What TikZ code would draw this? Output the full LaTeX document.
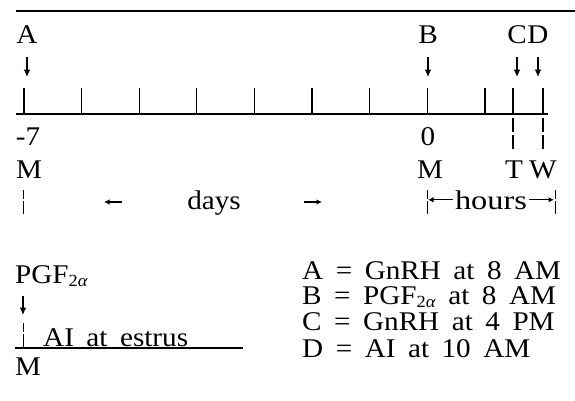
\documentclass[tikz,border=0pt]{standalone}
\usepackage{fontspec}
\setmainfont{Liberation Serif}
\usepackage{graphicx}
\usetikzlibrary{arrows.meta,positioning}

% the old typesetting is a bit wider than Times, so stretch the text a little
\newcommand{\wtext}[1]{\scalebox{1.08}[1]{#1}}
\newcommand{\widespace}{\spaceskip=0.43em\relax}
\newcommand{\pgfsub}{PGF\raisebox{-3.5pt}{\fontsize{17}{17}\selectfont 2\textit{α}}}

\begin{document}
\begin{tikzpicture}[x=1pt, y=-1pt,
    lbl/.style={inner sep=0pt, anchor=base, font=\fontsize{27}{32}\selectfont\widespace},
    rule/.style={line width=1.6pt},
    tickmark/.style={line width=1.1pt},
    brk/.style={line width=1pt, dash pattern=on 9pt off 2pt on 30pt off 1pt},
    darr/.style={line width=1.5pt, -{Latex[length=7.5pt,width=7pt]}},
    harr/.style={line width=1.1pt, -{Latex[length=5.5pt,width=5.5pt]}}
]
\useasboundingbox (0,0) rectangle (575,400);

% time line
\draw[rule] (16,11) -- (575,11);
\draw[rule] (16,114) -- (548,114);
\foreach \x [count=\i] in {24,81.6,139.2,196.8,254.4,312,369.6,427.2,485,513,543} {
    \coordinate (t\i) at (\x,114);
    \coordinate (top\i) at (\x,88);
    \draw[tickmark] (t\i) -- (top\i);
}

% treatments
\node[lbl] (A) at (27,43) {\wtext{A}};
\node[lbl] (B) at (428,43) {\wtext{B}};
\node[lbl] (C) at (517,43) {\wtext{C}};
\node[lbl] (D) at (538,43) {\wtext{D}};
\foreach \n/\t in {A/1,B/8,C/10,D/11}
    \draw[darr, shorten <=14pt, shorten >=11pt] (\n.south) -- (\n.south |- top\t);

% days and hours
\node[lbl] (m7) at (28,145) {\wtext{-7}};
\node[lbl] (z0) at (428,145) {\wtext{0}};
\node[lbl] (M1) at (29,178) {\wtext{M}};
\node[lbl] (M2) at (430,178) {\wtext{M}};
\node[lbl] (T) at (514,178) {\wtext{T}};
\node[lbl] (W) at (543,178) {\wtext{W}};
\draw[tickmark, dash pattern=on 14pt off 3pt, shorten >=9pt] (t10) ++(0,4) -- (t10 |- T.north);
\draw[tickmark, dash pattern=on 14pt off 3pt, shorten >=9pt] (t11) ++(0,4) -- (t11 |- W.north);

\coordinate (dbar) at (23,202);
\coordinate (hbl) at (427,202);
\coordinate (hbr) at (555,202);
\foreach \c in {dbar,hbl,hbr}
    \draw[brk] (\c) ++(0,-12) -- ++(0,24);
\node[lbl] (days) at (214,209) {\wtext{days}};
\coordinate (dl) at (104,202);
\coordinate (dr) at (322,202);
\draw[harr] (dl) ++(18,0) -- (dl);
\draw[harr] (dr) ++(-18,0) -- (dr);
\node[lbl] (hrs) at (491,209) {\scalebox{1.2}[1]{hours}};
\draw[harr, shorten <=2pt, shorten >=1pt] (hrs.west) -- (hbl |- hrs.west);
\draw[harr, shorten <=2pt, shorten >=1pt] (hrs.east) -- (hbr |- hrs.east);

% control group
\node[lbl, anchor=base west] (pgf) at (15,283) {\wtext{\pgfsub}};
\coordinate (pa) at (23,296);
\coordinate (pb) at (23,315);
\draw[darr] (pa) -- (pb);
\draw[rule] (15,348) -- (243,348);
\draw[brk] (23,323) -- (23,348);
\node[lbl, anchor=base west] (ai) at (43,346) {\wtext{AI at estrus}};
\node[lbl, anchor=base west] (M3) at (15,375) {\wtext{M}};

% legend
\node[lbl, anchor=base west] (keyA) at (302,279) {\wtext{A = GnRH at 8 AM}};
\node[lbl, anchor=base west] (keyB) at (302,304) {\wtext{B = \pgfsub{} at 8 AM}};
\node[lbl, anchor=base west] (keyC) at (302,330) {\wtext{C = GnRH at 4 PM}};
\node[lbl, anchor=base west] (keyD) at (302,357) {\wtext{D = AI at 10 AM}};
\end{tikzpicture}
\end{document}
